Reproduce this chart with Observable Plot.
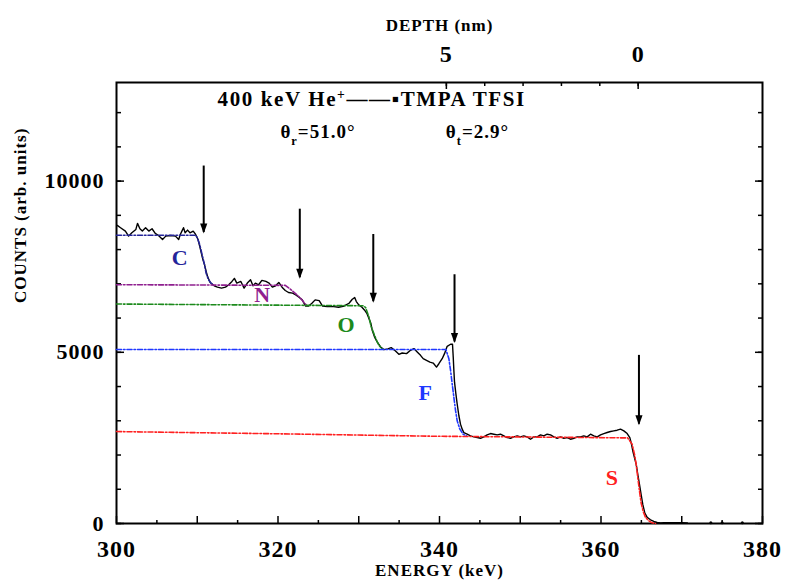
<!DOCTYPE html>
<html><head><meta charset="utf-8">
<script src="https://cdn.jsdelivr.net/npm/d3@7"></script>
<script src="https://cdn.jsdelivr.net/npm/@observablehq/plot@0.6"></script>
<style>
html,body{margin:0;padding:0;background:#fff;}
#chart svg text{letter-spacing:1px;}
</style>
</head><body><div id="chart"></div>
<script>
// ---------- data ----------
const spectrumEnergy = [300.1,300.5,301.1,301.5,301.9,302.4,302.6,302.9,303.2,303.6,304.0,304.4,304.8,305.2,305.7,306.1,306.7,307.3,307.7,307.9,308.1,308.3,308.5,308.8,309.1,309.5,309.8,310.1,310.3,310.5,310.7,310.9,311.1,311.3,311.6,312.1,312.5,313.0,313.5,313.9,314.3,314.6,314.9,315.4,315.8,316.2,316.6,316.9,317.2,317.6,318.0,318.5,318.9,319.3,319.7,320.1,320.5,320.9,321.3,321.8,322.2,322.6,323.0,323.4,323.8,324.2,324.6,325.1,325.5,326.1,326.9,327.5,328.2,328.8,329.2,329.5,329.7,330.0,330.4,330.7,331.0,331.2,331.5,331.67,331.95,332.28,332.70,333.11,333.61,334.02,334.55,334.97,335.38,335.92,336.41,336.83,337.24,337.65,337.98,338.39,338.81,339.22,339.63,339.92,340.33,340.62,340.95,341.37,341.61,341.70,341.78,341.86,342.03,342.19,342.40,342.60,342.81,343.01,343.43,343.84,344.25,344.67,345.08,345.49,345.90,346.32,346.73,347.14,347.55,347.97,348.38,348.79,349.21,349.62,350.03,350.44,350.86,351.27,351.68,352.10,352.51,352.92,353.33,353.75,354.16,354.57,354.99,355.40,355.81,356.22,356.64,357.05,357.46,357.87,358.29,358.70,359.11,359.53,359.94,360.35,360.76,361.18,361.59,362.00,362.42,362.83,363.24,363.57,363.78,363.94,364.15,364.36,364.56,364.77,364.97,365.18,365.43,365.72,366.13,366.54,366.96,367.37,367.78,368.5,369.2,370.0,370.7];
const spectrumCounts = [8706,8638,8540,8393,8491,8589,8765,8608,8540,8638,8540,8608,8471,8412,8295,8393,8412,8393,8295,8442,8540,8638,8491,8569,8491,8540,8442,8295,8099,7903,7707,7560,7364,7197,7040,6942,6903,6874,6903,6972,7070,7158,7021,7070,6874,7021,7119,6942,7021,6972,7099,7070,7021,6903,6942,7040,6903,6805,6746,6727,6678,6609,6531,6354,6354,6433,6531,6511,6354,6335,6335,6315,6354,6433,6550,6599,6482,6384,6315,6237,6139,6021,5845,5647,5451,5304,5157,5078,5098,5137,5039,4941,4980,4961,5059,5108,5010,4912,4814,4764,4715,4686,4568,4666,4814,4961,5176,5235,5235,4862,4470,4127,3784,3490,3147,2902,2755,2657,2608,2559,2529,2510,2490,2529,2588,2627,2608,2588,2608,2559,2510,2490,2529,2559,2529,2559,2529,2461,2529,2529,2588,2559,2608,2588,2529,2490,2529,2490,2510,2461,2490,2529,2529,2559,2529,2608,2559,2529,2588,2627,2657,2686,2706,2725,2755,2706,2627,2510,2314,2118,1921,1725,1431,1137,843,549,304,177,108,59,29,15,20,25,20,25,15];
const tailEnergy = [373.6, 375.0, 377.5];
const tailCounts = [20, 20, 20];

// simulated element contributions (energy keV, counts)
const simC = [[300,8420],[309.8,8420],[310.0,8350],[310.3,8150],[310.6,7850],[310.9,7560],[311.1,7310],[311.4,7120],[311.7,7020],[312.0,6975]];
const simN = [[300,6975],[320.9,6955],[321.5,6850],[322.1,6730],[322.8,6580],[323.3,6430],[323.6,6360]];
const simO = [[300,6410],[330.5,6360],[330.84,6313],[331.25,6039],[331.54,5745],[331.87,5549],[332.2,5353],[332.49,5206],[332.9,5100]];
const simF = [[300,5080],[340.8,5080],[341.16,4814],[341.37,4470],[341.57,4078],[341.78,3686],[341.99,3294],[342.19,3000],[342.52,2755],[342.93,2608],[343.35,2560]];
const simS = [[300,2685],[320,2620],[339,2550],[363.3,2500],[363.86,2314],[364.15,2020],[364.36,1725],[364.56,1333],[364.77,941],[364.97,598],[365.22,353],[365.51,177],[365.92,78],[366.33,20],[366.75,0]];

const elementNames = ["C","N","O","F","S"];
const elementLabelEnergy = [307.9, 318.1, 328.5, 338.3, 361.4];
const elementLabelCounts = [7755, 6676, 5794, 3804, 1333];

// surface-edge arrows
const arrowEnergy = [310.8, 322.7, 331.8, 341.86, 364.7];
const arrowTopCounts = [10440, 9180, 8440, 7265, 4910];
const arrowTipCounts = [8500, 7180, 6480, 5300, 2900];

// annotations
const annotationTexts = ["400 keV He^{+}——▪TMPA TFSI", "θ_{r}=51.0°", "θ_{t}=2.9°"];
const annotationEnergy = [331.6, 324.95, 344.7];
const annotationCounts = [12380, 11440, 11440];

// tick labels
const xTickLabels = [300, 320, 340, 360, 380];
const yTickLabels = [0, 5000, 10000];
const depthTickLabels = [5, 0];
const depthTicks = [0, 1, 2, 3, 4, 5];
const depthSurfaceEnergy = 364.6; // keV at depth 0
const keVPerNm = 4.75;

// ---------- styles ----------
const colors = {C: "#24249a", N: "#8f1f8f", O: "#1c8a1c", F: "#2038ff", S: "#ff2020"};
const sims = {C: simC, N: simN, O: simO, F: simF, S: simS};
const dash = "5,2,1.5,2";
const toE = d => depthSurfaceEnergy - d * keVPerNm;
const blank = () => "";

const spectrum = spectrumEnergy.map((e, i) => ({e, c: spectrumCounts[i]}));
const tail = tailEnergy.map((e, i) => ({e, c: tailCounts[i]}));
const idx5 = d3.range(elementNames.length);
const annIdx = d3.range(annotationTexts.length);

const downTri = {draw(ctx) { ctx.moveTo(0, 1); ctx.lineTo(-3.6, -9); ctx.lineTo(3.6, -9); ctx.closePath(); }};

const plot = Plot.plot({
  width: 785, height: 584,
  marginTop: 82, marginRight: 23, marginBottom: 61, marginLeft: 116,
  x: {domain: [300, 380]},
  y: {domain: [0, 12880]},
  style: "font-family:'Liberation Serif','Times New Roman',serif;font-weight:bold;background:#fff;color:#000;overflow:visible;",
  marks: [
    // bottom axis
    Plot.axisX(d3.range(300, 381, 10), {anchor: "bottom", tickSize: -7, tickFormat: blank, label: null, strokeWidth: 1.5}),
    Plot.axisX(d3.range(305, 380, 10), {anchor: "bottom", tickSize: -3, tickFormat: blank, label: null, strokeWidth: 1.5}),
    Plot.axisX(xTickLabels, {anchor: "bottom", tickSize: 0, tickPadding: 16, fontSize: 24, tickFormat: d => String(d), label: null}),
    // left / right axes
    Plot.axisY(d3.range(0, 12881, 1000), {anchor: "left", tickSize: -5, tickFormat: blank, label: null, strokeWidth: 1.5}),
    Plot.axisY(yTickLabels, {anchor: "left", tickSize: -8, tickFormat: blank, label: null, strokeWidth: 1.5}),
    Plot.axisY(yTickLabels, {anchor: "left", tickSize: 0, tickPadding: 12, fontSize: 22, tickFormat: d => String(d), label: null}),
    Plot.axisY(d3.range(0, 12881, 1000), {anchor: "right", tickSize: -5, tickFormat: blank, label: null, strokeWidth: 1.5}),
    Plot.axisY(yTickLabels, {anchor: "right", tickSize: -8, tickFormat: blank, label: null, strokeWidth: 1.5}),
    // top depth axis
    Plot.axisX(depthTicks.map(toE), {anchor: "top", tickSize: -3, tickFormat: blank, label: null, strokeWidth: 1.5}),
    Plot.axisX(depthTickLabels.map(toE), {anchor: "top", tickSize: -6, tickFormat: blank, label: null, strokeWidth: 1.5}),
    Plot.axisX(depthTickLabels.map(toE), {anchor: "top", tickSize: 0, tickPadding: 21, fontSize: 24, label: null,
      tickFormat: e => String(Math.round((depthSurfaceEnergy - e) / keVPerNm))}),
    Plot.frame({strokeWidth: 2}),
    // axis titles
    Plot.text(["DEPTH (nm)"], {text: d => d, frameAnchor: "top", dy: -64, fontSize: 17}),
    Plot.text(["ENERGY (keV)"], {text: d => d, frameAnchor: "bottom", dy: 52, fontSize: 17}),
    Plot.text(["COUNTS (arb. units)"], {text: d => d, frameAnchor: "left", dx: -96, rotate: -90, fontSize: 17}),
    // measured spectrum
    Plot.line(spectrum, {x: "e", y: "c", stroke: "#000", strokeWidth: 1.4}),
    Plot.dot(tail, {x: "e", y: "c", r: 1.5, fill: "#000", stroke: null}),
    // simulated element curves
    ...elementNames.map(n => Plot.line(sims[n], {x: d => d[0], y: d => d[1], stroke: colors[n], strokeWidth: 1.6, strokeDasharray: dash})),
    // element labels
    Plot.text(idx5, {x: i => elementLabelEnergy[i], y: i => elementLabelCounts[i], text: i => elementNames[i],
      fill: i => colors[elementNames[i]], fontSize: 22}),
    // arrows
    Plot.ruleX(idx5, {x: i => arrowEnergy[i], y1: i => arrowTopCounts[i], y2: i => arrowTipCounts[i], strokeWidth: 2, stroke: "#000"}),
    Plot.dot(idx5, {x: i => arrowEnergy[i], y: i => arrowTipCounts[i], symbol: downTri, fill: "#000", stroke: null, r: 4}),
    // annotations
    Plot.text(annIdx, {x: i => annotationEnergy[i], y: i => annotationCounts[i], text: i => annotationTexts[i],
      fontSize: i => i === 0 ? 21 : 19})
  ]
});

// render ^{..} / _{..} markup as real super/subscripts
d3.select(plot).selectAll("text").each(function () {
  const t = this.textContent;
  if (!/[\^_]\{/.test(t)) return;
  const sel = d3.select(this);
  sel.text(null);
  if (t.startsWith("400")) sel.style("letter-spacing", "1.6px");
  const re = /([\^_])\{([^}]*)\}/g;
  let last = 0, m;
  while ((m = re.exec(t))) {
    if (m.index > last) sel.append("tspan").text(t.slice(last, m.index));
    const sup = m[1] === "^";
    sel.append("tspan").attr("baseline-shift", sup ? "super" : "sub").attr("font-size", "65%").text(m[2]);
    last = re.lastIndex;
  }
  if (last < t.length) sel.append("tspan").text(t.slice(last));
});

document.getElementById("chart").appendChild(plot);
</script>
</body></html>
